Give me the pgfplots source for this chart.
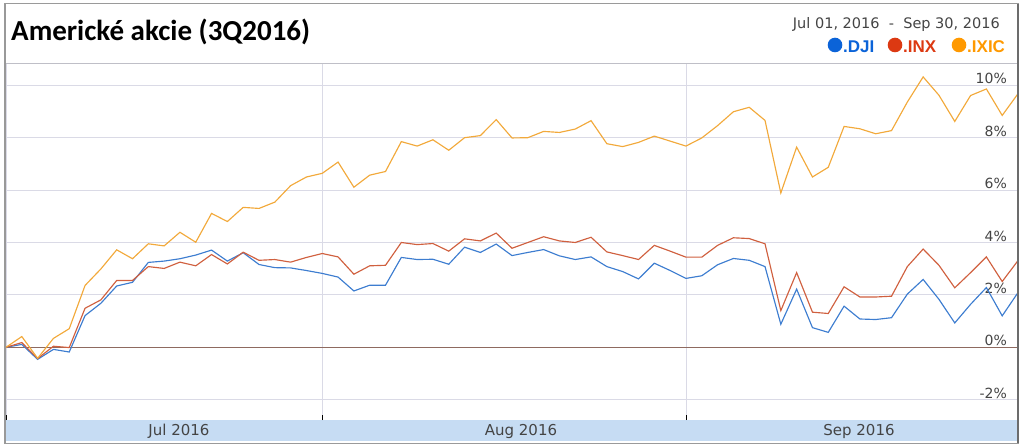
\documentclass[border=0pt]{standalone}
\usepackage{fontspec}
\usepackage{pgfplots}
\usepackage{pgfplotstable}
\pgfplotsset{compat=1.18}
\setmainfont{DejaVu Sans}
\newfontfamily\titlefont{Carlito}
\newfontfamily\legfont{Liberation Sans}
\definecolor{ldji}{HTML}{3D7DD0}
\definecolor{linx}{HTML}{D0603F}
\definecolor{lixic}{HTML}{F2A93B}
\definecolor{cdji}{HTML}{0B63D8}
\definecolor{cinx}{HTML}{DC3912}
\definecolor{cixic}{HTML}{FF9900}
\definecolor{gridc}{HTML}{DADAE6}
\definecolor{zeroc}{HTML}{8E6A60}
\definecolor{bandc}{HTML}{C6DCF3}
\definecolor{framec}{HTML}{9A9A9A}
\definecolor{txtc}{HTML}{444444}

\pgfplotstableread{
i dji inx ixic
0 0 0 0
1 0.11 0.18 0.41
2 -0.46 -0.43 -0.42
3 -0.08 0.04 0.34
4 -0.18 -0.01 0.71
5 1.21 1.49 2.36
6 1.68 1.81 2.99
7 2.34 2.55 3.72
8 2.48 2.55 3.38
9 3.24 3.08 3.95
10 3.29 3.01 3.87
11 3.38 3.25 4.39
12 3.52 3.11 4.01
13 3.71 3.54 5.11
14 3.29 3.18 4.80
15 3.61 3.63 5.34
16 3.16 3.32 5.30
17 3.04 3.35 5.54
18 3.03 3.25 6.17
19 2.93 3.43 6.50
20 2.82 3.58 6.64
21 2.68 3.45 7.07
22 2.15 2.79 6.11
23 2.37 3.11 6.57
24 2.37 3.13 6.71
25 3.43 4.00 7.85
26 3.35 3.92 7.68
27 3.36 3.96 7.92
28 3.17 3.67 7.52
29 3.82 4.14 8.00
30 3.62 4.06 8.08
31 3.94 4.36 8.69
32 3.50 3.78 7.99
33 3.62 4.00 8.00
34 3.73 4.22 8.24
35 3.49 4.06 8.20
36 3.35 4.00 8.33
37 3.45 4.20 8.65
38 3.08 3.64 7.77
39 2.89 3.50 7.66
40 2.61 3.35 7.82
41 3.21 3.89 8.06
42 2.93 3.67 7.87
43 2.63 3.44 7.68
44 2.73 3.44 7.99
45 3.15 3.89 8.46
46 3.39 4.18 8.99
47 3.32 4.15 9.16
48 3.08 3.95 8.66
49 0.88 1.40 5.89
50 2.22 2.85 7.64
51 0.75 1.34 6.50
52 0.57 1.29 6.87
53 1.57 2.31 8.43
54 1.08 1.92 8.34
55 1.06 1.92 8.15
56 1.13 1.95 8.27
57 2.03 3.08 9.36
58 2.59 3.75 10.32
59 1.83 3.13 9.62
60 0.93 2.27 8.62
61 1.64 2.85 9.61
62 2.28 3.45 9.86
63 1.20 2.51 8.85
64 2.09 3.31 9.68
}\datatable

\begin{document}
\begin{tikzpicture}[x=1pt,y=1pt]
\path[use as bounding box] (0,0) rectangle (1024,447);
% blue band
\fill[bandc] (5,6) rectangle (1018,27);
\begin{axis}[
  at={(5pt,27pt)}, anchor=south west, scale only axis,
  width=1013pt, height=357pt,
  xmin=-0.063, xmax=64, ymin=-2.775, ymax=10.851,
  axis line style={draw=none},
  xtick={0,20,43}, xticklabels={}, xmajorgrids,
  xtick pos=lower, tick align=inside, major tick length=5pt,
  x tick style={black, line width=0.8pt},
  ytick={-2,2,4,6,8,10},
  yticklabels={-2\%,2\%,4\%,6\%,8\%,10\%},
  ymajorgrids, y tick style={draw=none},
  yticklabel pos=right,
  yticklabel style={anchor=south east, xshift=-10pt, inner sep=1pt,
    font=\fontsize{14}{14}\selectfont, text=txtc},
  extra y ticks={0}, extra y tick labels={0\%},
  extra y tick style={grid style={color=zeroc, line width=1pt}, y tick style={draw=none}},
  grid style={color=gridc, line width=0.8pt},
]
\addplot[color=ldji, line width=1.15pt] table[x=i, y=dji] {\datatable};
\addplot[color=linx, line width=1.15pt] table[x=i, y=inx] {\datatable};
\addplot[color=lixic, line width=1.15pt] table[x=i, y=ixic] {\datatable};
\end{axis}
% frame
\draw[framec, line width=1pt] (4,4) rectangle (1018,443);
\draw[gridc!70!gray, line width=0.8pt] (5,384) -- (1018,384);
\draw[gray!80, line width=1.6pt] (5,4) -- (5,443);
\draw[gray!85!black, line width=1.6pt] (1018,4) -- (1018,443);
% month labels
\node[font=\fontsize{15}{15}\selectfont, text=txtc] at (179,16) {Jul 2016};
\node[font=\fontsize{15}{15}\selectfont, text=txtc] at (521,16) {Aug 2016};
\node[font=\fontsize{15}{15}\selectfont, text=txtc] at (859,16) {Sep 2016};
% title
\node[anchor=base west, inner sep=0pt, font=\titlefont\bfseries\fontsize{29}{29}\selectfont] at (11,406) {Americké akcie (3Q2016)};
% date range
\node[anchor=base east, inner sep=0pt, font=\fontsize{14.5}{14.5}\selectfont, text=txtc] at (1000,418) {Jul 01, 2016\ \ -\ \ Sep 30, 2016};
% legend
\fill[cdji] (835,402) circle (7.3);
\node[anchor=base west, inner sep=0pt, text=cdji, font=\legfont\bfseries\fontsize{17}{17}\selectfont] at (843,394) {.DJI};
\fill[cinx] (895,402) circle (7.3);
\node[anchor=base west, inner sep=0pt, text=cinx, font=\legfont\bfseries\fontsize{17}{17}\selectfont] at (903,394) {.INX};
\fill[cixic] (959,402) circle (7.3);
\node[anchor=base west, inner sep=0pt, text=cixic, font=\legfont\bfseries\fontsize{17}{17}\selectfont] at (967,394) {.IXIC};
\end{tikzpicture}
\end{document}
